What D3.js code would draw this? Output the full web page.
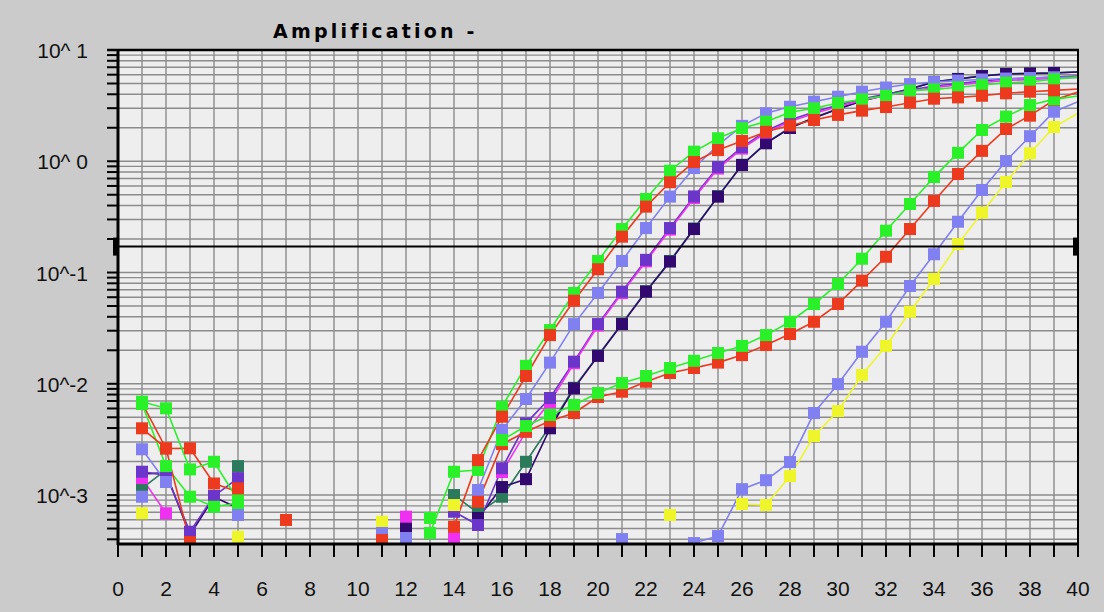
<!DOCTYPE html>
<html><head><meta charset="utf-8">
<script src="https://cdn.jsdelivr.net/npm/d3@7"></script>
<style>html,body{margin:0;padding:0;background:#cbcbcb;} svg{display:block;}</style>
</head><body><svg id="c" width="1104" height="612"></svg>
<script>
const N = null;
const title = "Amplification -";
const cycles = d3.range(1, 41);
const xTickLabels = d3.range(0, 41, 2);
const yTickLabels = ["10^ 1", "10^ 0", "10^-1", "10^-2", "10^-3"];
const yTickValues = [10, 1, 0.1, 0.01, 0.001];
const threshold = 0.171;

const earlyGreen = [0.0069,0.00602,0.0017,0.00199,0.0009,N,N,N,N,N,N,N,0.000456,0.00162,0.00168,0.00622,0.0145,0.0304,0.0655,0.127,0.246,0.458,0.822,1.22,1.61,1.98,2.27,2.76,2.99,3.34,3.60,3.88,4.31,4.43,4.62,4.85,5.08,5.18,5.45,5.71];
const earlyRed = [0.00398,0.00263,0.000378,N,0.00115,N,N,N,N,N,0.000394,N,N,0.000519,0.00206,0.00506,0.01175,0.0274,0.0558,0.107,0.210,0.391,0.648,0.984,1.26,1.52,1.84,2.10,2.35,2.61,2.85,3.07,3.36,3.65,3.75,3.88,4.08,4.22,4.34,4.46];
const earlyPeri = [0.00258,0.00131,N,N,0.000662,N,N,N,N,N,N,0.000411,N,N,0.00111,0.00384,0.0073,0.0155,0.0344,0.0655,0.127,0.251,0.481,0.869,1.40,2.08,2.70,3.09,3.43,3.80,4.22,4.60,4.94,5.15,5.31,5.43,5.54,5.60,5.66,5.71];
const earlyViolet = [0.00162,0.00151,0.000468,0.00098,0.00142,N,N,N,N,N,N,N,N,0.000708,0.000538,0.00174,0.00441,0.00745,0.0158,0.0344,0.0673,0.130,0.251,0.483,0.887,1.34,1.87,2.35,2.77,3.20,3.62,4.02,4.37,4.75,5.00,5.26,5.48,5.60,5.71,5.83];
const earlyIndigo = [0.00155,0.00158,0.000437,0.00096,0.000764,N,N,N,N,N,N,0.000506,N,N,0.000622,0.00118,0.00139,0.00398,0.00909,0.0178,0.0344,0.0673,0.1255,0.246,0.481,0.925,1.45,1.99,2.45,2.95,3.48,3.94,4.46,5.15,5.48,5.83,6.08,6.15,6.21,6.34];
const magentaWell = [0.00142,0.000686,N,N,0.00125,N,N,N,N,N,N,0.000639,N,0.000411,N,0.00161,0.00371,0.00686,0.0153,0.0334,0.0653,0.126,0.243,0.468,0.86,1.30,1.81,2.28,2.69,3.10,3.51,3.90,4.24,4.61,4.85,5.10,5.32,5.43,5.54,5.66];
const tealWell = [0.00115,0.00168,N,N,0.00182,N,N,N,N,N,N,N,N,0.001,0.00069,0.000966,0.00199,0.00417,0.0092,0.018,0.0348,0.068,0.127,0.249,0.486,0.93,1.46,2.0,2.47,2.97,3.5,3.96,4.48,5.17,5.5,5.85,6.1,6.17,6.23,6.36];
const lateGreen = [0.00658,0.00182,0.000966,0.000785,0.000848,N,N,N,N,N,N,N,0.000622,N,N,0.00312,0.00417,0.00524,0.00645,0.00826,0.01015,0.01175,0.01386,0.0161,0.0189,0.0219,0.0274,0.0361,0.0521,0.0789,0.133,0.2375,0.413,0.721,1.19,1.91,2.52,3.20,3.60,3.86];
const lateRed = [0.00672,0.00262,0.00263,0.00127,0.00107,N,0.000597,N,N,N,N,N,N,N,0.00087,0.00287,0.00371,0.00462,0.00546,0.00761,0.00849,0.01043,0.0125,0.01386,0.0155,0.0181,0.0223,0.028,0.0361,0.0521,0.0845,0.1385,0.246,0.44,0.768,1.24,1.95,2.57,3.55,4.19];
const latePeri = [0.000966,N,N,N,N,N,N,N,N,N,0.000456,N,N,N,N,N,N,N,N,N,0.000402,N,N,0.00037,0.000428,0.00113,0.00136,0.00198,0.00546,0.00994,0.0194,0.0361,0.0757,0.146,0.286,0.552,1.005,1.68,2.79,3.43];
const lateYellow = [0.000686,N,N,N,0.000422,N,N,N,N,N,0.000576,N,N,0.000813,N,N,N,N,N,N,N,N,0.000662,N,N,0.00083,0.000813,0.00148,0.00339,0.00569,0.012,0.0219,0.0444,0.0875,0.180,0.345,0.650,1.18,2.03,2.70];

// marker drawing order (bottom to top)
const series = [
  {values: tealWell,    color: "#2b7a5c", lz: 0},
  {values: earlyIndigo, color: "#32096e", lz: 1},
  {values: magentaWell, color: "#f030f0", lz: 3},
  {values: earlyViolet, color: "#6a35c8", lz: 2},
  {values: lateYellow,  color: "#eef52a", lz: 4},
  {values: latePeri,    color: "#8080f0", lz: 5},
  {values: earlyPeri,   color: "#8080f0", lz: 6},
  {values: lateRed,     color: "#ec3a1e", lz: 7},
  {values: lateGreen,   color: "#2af02a", lz: 8},
  {values: earlyGreen,  color: "#2af02a", lz: 9},
  {values: earlyRed,    color: "#ec3a1e", lz: 10}
];

const svg = d3.select("#c");
const P = {left:118, right:1078, top:50, bottom:544};
const x = d3.scaleLinear().domain([0,40]).range([P.left,P.right]);
const y = d3.scaleLog().domain([Math.pow(10,-3.44), 10]).range([P.bottom,P.top]);

svg.append("rect").attr("x",P.left).attr("y",P.top).attr("width",P.right-P.left).attr("height",P.bottom-P.top).attr("fill","#eeeeee");

const ymin = y.domain()[0];
const gridVals = [];
for (let e=-4; e<=0; e++) for (let m=1; m<=9; m++) { const v = m*Math.pow(10,e); if (v>=ymin && v<10) gridVals.push(v); }

const grid = svg.append("g");
grid.selectAll("line.h").data(gridVals).join("line").attr("class","h")
  .attr("x1",P.left).attr("x2",P.right).attr("y1",d=>y(d)).attr("y2",d=>y(d))
  .attr("stroke","#8c8c8c").attr("stroke-width",1.4);
grid.selectAll("line.v").data(d3.range(1,40)).join("line").attr("class","v")
  .attr("x1",d=>x(d)).attr("x2",d=>x(d)).attr("y1",P.top).attr("y2",P.bottom)
  .attr("stroke","#8c8c8c").attr("stroke-width",1.4);

svg.append("clipPath").attr("id","clip").append("rect")
  .attr("x",P.left).attr("y",P.top).attr("width",P.right-P.left).attr("height",P.bottom-P.top);

const gData = svg.append("g").attr("clip-path","url(#clip)");
const line = d3.line().defined(d=>d.v!=null).x(d=>x(d.c)).y(d=>y(d.v));
series.slice().sort((a,b)=>a.lz-b.lz).forEach(s=>{
  const pts = cycles.map((c,i)=>({c, v:s.values[i]}));
  gData.append("path").datum(pts).attr("d",line).attr("fill","none").attr("stroke",s.color).attr("stroke-width",1.6);
});
const ms = 12;
series.forEach(s=>{
  const pts = cycles.map((c,i)=>({c, v:s.values[i]})).filter(d=>d.v!=null && d.c<40);
  gData.selectAll(null).data(pts).join("rect")
    .attr("x",d=>x(d.c)-ms/2).attr("y",d=>y(d.v)-ms/2).attr("width",ms).attr("height",ms)
    .attr("fill",s.color);
});

const ty = y(threshold);
svg.append("line").attr("x1",P.left).attr("x2",P.right).attr("y1",ty).attr("y2",ty).attr("stroke","#000").attr("stroke-width",2);
svg.append("rect").attr("x",P.left-5).attr("y",ty-9).attr("width",6).attr("height",18).attr("fill","#000");
svg.append("rect").attr("x",P.right-5).attr("y",ty-9).attr("width",6).attr("height",18).attr("fill","#000");

svg.append("line").attr("x1",P.left-11).attr("x2",P.right+1).attr("y1",P.top).attr("y2",P.top).attr("stroke","#000").attr("stroke-width",2.5);
svg.append("line").attr("x1",P.right).attr("x2",P.right).attr("y1",P.top).attr("y2",P.bottom).attr("stroke","#000").attr("stroke-width",2);

const yAxisTicks = gridVals.concat([10]);
svg.append("g").selectAll("line").data(yAxisTicks).join("line")
  .attr("x1",P.left-11).attr("x2",P.left).attr("y1",d=>y(d)).attr("y2",d=>y(d))
  .attr("stroke","#000").attr("stroke-width",2);
svg.append("line").attr("x1",P.left).attr("x2",P.left).attr("y1",P.top-1).attr("y2",P.bottom+1).attr("stroke","#000").attr("stroke-width",3);
svg.append("g").selectAll("text").data(yTickValues).join("text")
  .attr("x",88).attr("y",d=>y(d)+8).attr("text-anchor","end")
  .attr("font-family","Liberation Sans, Arial, sans-serif").attr("font-size",21).attr("fill","#111")
  .text((d,i)=>yTickLabels[i]);

svg.append("line").attr("x1",P.left-1).attr("x2",P.right+1).attr("y1",P.bottom).attr("y2",P.bottom).attr("stroke","#000").attr("stroke-width",3);
svg.append("g").selectAll("line").data(d3.range(0,41)).join("line")
  .attr("x1",d=>x(d)).attr("x2",d=>x(d)).attr("y1",P.bottom).attr("y2",P.bottom+13)
  .attr("stroke","#000").attr("stroke-width",2);
svg.append("g").selectAll("text").data(xTickLabels).join("text")
  .attr("x",d=>x(d)).attr("y",596).attr("text-anchor","middle")
  .attr("font-family","Liberation Sans, Arial, sans-serif").attr("font-size",21).attr("fill","#111")
  .text(d=>String(d));

svg.append("text").attr("x",273).attr("y",38)
  .attr("font-family","DejaVu Sans, sans-serif").attr("font-weight","bold").attr("font-size",19)
  .attr("letter-spacing","3.2px").attr("fill","#000").text(title);
</script>
</body></html>
